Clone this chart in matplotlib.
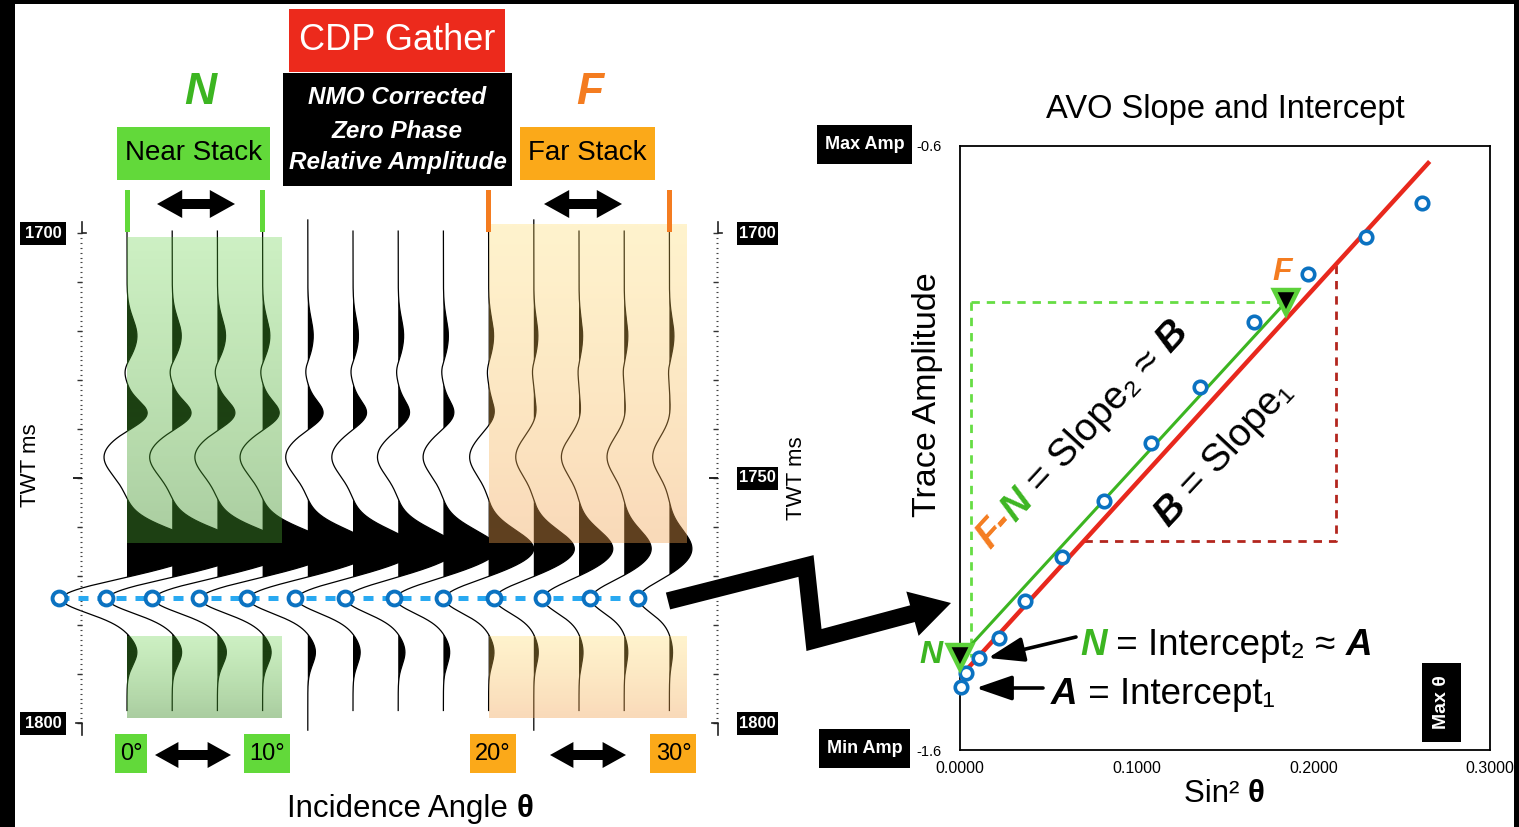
#!/usr/bin/env python3
"""AVO figure: near/far stack CDP gather next to the slope/intercept crossplot."""
import numpy as np
import matplotlib
matplotlib.use("Agg")
import matplotlib.pyplot as plt
from matplotlib.patches import Rectangle, Polygon

plt.rcParams["font.family"] = ["Liberation Sans", "DejaVu Sans"]

W, H = 1519, 827  # figure size in pixels (dpi=100)

# ---- gather: reflection events, amplitude per trace (13 traces, 0..30 deg) ----
event_ms = [1721.0, 1728.0, 1737.0, 1745.7, 1764.5, 1774.5, 1785.5]
event_width_ms = [3.5, 1.8, 2.6, 3.8, 3.8, 3.0, 2.6]
lobe1_amp = [0.22, 0.20, 0.18, 0.16, 0.12, 0.12, 0.12, 0.11, 0.11, 0.09, 0.08, 0.08, 0.10]
notch_amp = [-0.07, -0.07, -0.07, -0.06, -0.06, -0.06, -0.05, -0.05, -0.04, -0.04, -0.03, -0.03, -0.03]
lobe2_amp = [0.48, 0.45, 0.42, 0.40, 0.37, 0.33, 0.28, 0.26, 0.15, 0.07, 0.05, 0.04, 0.03]
trough1_amp = [-0.51, -0.50, -0.50, -0.50, -0.49, -0.47, -0.46, -0.45, -0.42, -0.40, -0.39, -0.38, -0.37]
peak_amp = [1.70, 1.70, 1.65, 1.60, 1.50, 1.40, 1.30, 1.20, 1.00, 0.90, 0.75, 0.60, 0.50]
avo_amp = [-1.496, -1.473, -1.448, -1.415, -1.353, -1.281, -1.188, -1.092,
           -0.999, -0.891, -0.812, -0.751, -0.694]
tail_amp = [0.22, 0.21, 0.20, 0.19, 0.17, 0.16, 0.15, 0.14, 0.12, 0.10, 0.09, 0.08, 0.07]
long_traces = [4, 9]

# ---- crossplot ----
sin2_theta = [0.0006, 0.0034, 0.0108, 0.0221, 0.0368, 0.0577, 0.0815, 0.1081,
              0.1358, 0.1664, 0.1970, 0.2298, 0.2615]
intercept1 = -1.479
slope1 = 3.21
fit_end = 0.265
near_stack = (0.0, -1.446)
far_stack = (0.1845, -0.858)
slope_run = (0.0702, 0.2128)
guide_x = 0.0062

angle_labels = ["0°", "10°", "20°", "30°"]
angle_traces = [0, 3, 8, 12]
near_span = (0, 3)
far_span = (8, 12)

GREEN = "#62d93a"
DKGREEN = "#3cb521"
ORANGE = "#f47c20"
AMBER = "#fba919"
BLUE = "#0b72c1"

# pixel layout of the gather: trace 0 at x=127, 45.2 px per trace; 1700 ms at y=233, 4.9 px/ms
TR0, TRDX = 127.0, 45.2
T0, TPX, PXMS = 1700.0, 233.0, 4.9


def px_rect(l, t, r, b):
    return [l / W, 1 - b / H, (r - l) / W, (b - t) / H]


def gx(px):
    return (px - TR0) / TRDX


def gt(py):
    return T0 + (py - TPX) / PXMS


def trace_px(i):
    return TR0 + TRDX * i


fig = plt.figure(figsize=(W / 100, H / 100), dpi=100)
fig.patch.set_facecolor("white")

# ---------------- gather ----------------
gl, gtop, gr, gb = 30, 180, 730, 800
ax_g = fig.add_axes(px_rect(gl, gtop, gr, gb))
ax_g.axis("off")

t = np.linspace(1696.0, 1803.0, 1600)
amps = np.array([lobe1_amp, notch_amp, lobe2_amp, trough1_amp, peak_amp, avo_amp, tail_amp])
for i in range(len(avo_amp)):
    tr = np.zeros_like(t)
    for k in range(len(event_ms)):
        tr += amps[k, i] * np.exp(-0.5 * ((t - event_ms[k]) / event_width_ms[k]) ** 2)
    top, bot = (1697.3, 1801.5) if i in long_traces else (1699.6, 1797.5)
    m = (t >= top) & (t <= bot)
    xs = i + tr[m]
    ax_g.fill_betweenx(t[m], i, xs, where=xs > i, interpolate=True,
                       color="black", lw=0, zorder=2)
    ax_g.plot(xs, t[m], color="black", lw=0.9, zorder=2)


def shade(x0, x1, t0, t1, c_top, c_bot):
    g = np.linspace(0, 1, 64)[:, None, None]
    rgba = np.array(c_top)[None, None, :] * (1 - g) + np.array(c_bot)[None, None, :] * g
    ax_g.imshow(rgba, extent=(x0, x1, t1, t0), aspect="auto",
                interpolation="bilinear", zorder=3)


g_top = (88 / 255, 205 / 255, 55 / 255, 0.30)
g_bot = (66 / 255, 144 / 255, 44 / 255, 0.45)
o_top = (255 / 255, 215 / 255, 88 / 255, 0.30)
o_bot = (242 / 255, 162 / 255, 80 / 255, 0.40)
shade(near_span[0], gx(282), gt(237), gt(543), g_top, g_bot)
shade(near_span[0], gx(282), gt(636), gt(718), g_top, g_bot)
shade(far_span[0], gx(686), gt(224), gt(543), o_top, o_bot)
shade(far_span[0], gx(686), gt(636), gt(718), o_top, o_bot)

# picked trough of the AVO event
trace_idx = np.arange(len(avo_amp))
pick_x = trace_idx + np.array(avo_amp)
pick_t = [event_ms[5]] * len(avo_amp)
ax_g.plot(pick_x, pick_t, color="#29a9f1", lw=3.6, dashes=(2.0, 1.8),
          solid_capstyle="butt", zorder=4)
ax_g.plot(pick_x, pick_t, "o", ms=10, mfc="white", mec=BLUE, mew=2.8, zorder=5)

# TWT rulers
for rx in (gx(82), gx(718)):
    minor = np.arange(1700, 1801, 1)
    mid = np.arange(1700, 1801, 10)
    ax_g.hlines(minor, rx - 2 / TRDX, rx, color="#444", lw=0.8, zorder=2)
    ax_g.hlines(mid, rx - 5 / TRDX, rx, color="#333", lw=1.0, zorder=2)
    ax_g.hlines([1750], rx - 9 / TRDX, rx, color="#222", lw=1.4, zorder=2)
    ax_g.plot([rx, rx, rx + 4 / TRDX], [1697.8, 1700, 1700], color="#222", lw=1.2)
    ax_g.plot([rx - 6 / TRDX, rx, rx], [1800, 1800, 1802.4], color="#222", lw=1.2)

ax_g.set_xlim(gx(gl), gx(gr))
ax_g.set_ylim(gt(gb), gt(gtop))

# ---------------- AVO crossplot ----------------
ax_a = fig.add_axes(px_rect(960, 146, 1490, 750))
ax_a.set_xlim(0, 0.3)
ax_a.set_ylim(-1.6, -0.6)
fx = np.array([0.0, fit_end])
ax_a.plot(fx, intercept1 + slope1 * fx, color="#e8281d", lw=3.2, zorder=3)
ax_a.plot([near_stack[0], far_stack[0]], [near_stack[1], far_stack[1]],
          color=DKGREEN, lw=2.2, zorder=3)
ax_a.plot([guide_x, far_stack[0]], [far_stack[1], far_stack[1]], color="#66dd44",
          lw=2.0, dashes=(3, 2.5), zorder=2)
ax_a.plot([guide_x, guide_x], [far_stack[1], near_stack[1]], color="#66dd44",
          lw=2.0, dashes=(3, 2.5), zorder=2)
run_y = intercept1 + slope1 * np.array(slope_run)
ax_a.plot([slope_run[0], slope_run[1], slope_run[1]], [run_y[0], run_y[0], run_y[1]],
          color="#b3261e", lw=2.0, dashes=(3, 2.5), zorder=2)
ax_a.plot(sin2_theta, avo_amp, "o", ms=9, mfc="white", mec=BLUE, mew=2.6,
          zorder=5, clip_on=False)
for pt in (near_stack, far_stack):
    ax_a.plot(*pt, "v", ms=17, mfc="black", mec="#5cd13a", mew=3.2, zorder=6,
              clip_on=False)

ax_a.set_xticks([0.0, 0.1, 0.2, 0.3])
ax_a.set_xticklabels([f"{v:.4f}" for v in [0.0, 0.1, 0.2, 0.3]])
ax_a.set_yticks([-1.6, -0.6])
ax_a.set_yticklabels(["-1.6", "-0.6"])
ax_a.tick_params(axis="x", length=0, pad=8, labelsize=11.5)
ax_a.tick_params(axis="y", length=0, pad=13, labelsize=10.5)
for s in ax_a.spines.values():
    s.set_linewidth(1.3)
ax_a.set_ylabel("Trace Amplitude", fontsize=24.5)
ax_a.yaxis.set_label_coords(-0.032, 0.588)
ax_a.set_title("AVO Slope and Intercept", fontsize=23.5, pad=20)

# ---------------- annotation layer (pixel coordinates) ----------------
ov = fig.add_axes([0, 0, 1, 1], zorder=10)
ov.set_xlim(0, W)
ov.set_ylim(H, 0)
ov.axis("off")
ov.patch.set_alpha(0)

renderer = fig.canvas.get_renderer()


def text_width(s, kw):
    a = ov.text(0, 0, s + "|", **kw)
    b = ov.text(0, 0, "|", **kw)
    w = a.get_window_extent(renderer).width - b.get_window_extent(renderer).width
    a.remove()
    b.remove()
    return w


def rich_text(x, y, pieces, size, angle=0.0, center=False):
    rad = np.deg2rad(angle)
    if center:
        total = sum(text_width(s, dict(fontsize=size, fontweight=wt, fontstyle=st))
                    for s, _, wt, st in pieces)
        x -= total / 2
    for s, color, weight, style in pieces:
        kw = dict(fontsize=size, color=color, fontweight=weight, fontstyle=style)
        ov.text(x, y, s, ha="left", va="baseline", rotation=angle,
                rotation_mode="anchor", **kw)
        w = text_width(s, kw)
        x += w * np.cos(rad)
        y -= w * np.sin(rad)


def label_box(x0, y0, x1, y1, text, fc="black", tc="white", size=11, weight="bold",
              style="normal", rotation=0):
    ov.add_patch(Rectangle((x0, y0), x1 - x0, y1 - y0, fc=fc, ec="none"))
    ov.text((x0 + x1) / 2, (y0 + y1) / 2, text, ha="center", va="center", color=tc,
            fontsize=size, fontweight=weight, fontstyle=style, rotation=rotation)


def double_arrow(cx, cy, length, height, shaft):
    hl = height * 0.9
    h = length / 2
    pts = [(-h, 0), (-h + hl, -height / 2), (-h + hl, -shaft / 2), (h - hl, -shaft / 2),
           (h - hl, -height / 2), (h, 0), (h - hl, height / 2), (h - hl, shaft / 2),
           (-h + hl, shaft / 2), (-h + hl, height / 2)]
    ov.add_patch(Polygon([(cx + px, cy + py) for px, py in pts], closed=True,
                         fc="black", ec="none"))


# frame
ov.add_patch(Rectangle((0, 0), 15, H, fc="black", ec="none"))
ov.add_patch(Rectangle((0, 0), W, 4, fc="black", ec="none"))
ov.add_patch(Rectangle((1514, 0), 5, H, fc="black", ec="none"))

# header
label_box(289, 9, 505, 72, "CDP Gather", fc="#ec2a1c", size=26, weight="normal")
ov.add_patch(Rectangle((283, 73), 229, 113, fc="black", ec="none"))
for yy, line in zip([98, 131, 163], ["NMO Corrected", "Zero Phase", "Relative Amplitude"]):
    ov.text(397.5, yy, line, ha="center", va="center", color="white", fontsize=17.5,
            fontweight="bold", fontstyle="italic")
ov.text(200, 93, "N", ha="center", va="center", color=DKGREEN, fontsize=32,
        fontweight="bold", fontstyle="italic")
ov.text(590, 93, "F", ha="center", va="center", color=ORANGE, fontsize=32,
        fontweight="bold", fontstyle="italic")
label_box(117, 127, 270, 180, "Near Stack", fc=GREEN, tc="black", size=20, weight="normal")
label_box(520, 127, 655, 180, "Far Stack", fc=AMBER, tc="black", size=20, weight="normal")

for i in near_span:
    ov.add_patch(Rectangle((trace_px(i) - 2.5, 190), 5, 42, fc=GREEN, ec="none"))
for i in far_span:
    ov.add_patch(Rectangle((trace_px(i) - 2.5, 190), 5, 42, fc=ORANGE, ec="none"))
double_arrow(196, 204, 78, 28, 10)
double_arrow(583, 204, 78, 28, 10)

# angle labels
for lab, i in zip(angle_labels, angle_traces):
    fc = GREEN if i <= near_span[1] else AMBER
    w = 32 if len(lab) == 2 else 46
    cx = trace_px(i) + 4
    label_box(cx - w / 2, 734, cx + w / 2, 773, lab, fc=fc, tc="black", size=17,
              weight="normal")
double_arrow(193, 755, 76, 26, 10)
double_arrow(588, 755, 76, 26, 10)
rich_text(410, 817, [("Incidence Angle ", "black", "normal", "normal"),
                     ("θ", "black", "bold", "normal")], 22.5, center=True)
rich_text(1224, 802, [("Sin² ", "black", "normal", "normal"),
                      ("θ", "black", "bold", "normal")], 22.5, center=True)

# time labels
for yy, lab in [(233, "1700"), (723, "1800")]:
    label_box(20, yy - 11.5, 66, yy + 11.5, lab, size=12)
for yy, lab in [(233, "1700"), (478, "1750"), (723, "1800")]:
    label_box(737, yy - 11.5, 778, yy + 11.5, lab, size=12)
ov.text(30, 465, "TWT ms", rotation=90, ha="center", va="center", fontsize=16)
ov.text(797, 478, "TWT ms", rotation=90, ha="center", va="center", fontsize=16)

# zigzag arrow from the gather pick to the crossplot
zz = np.array([(668, 601), (806, 566), (814, 640), (915, 613)], float)
ov.plot(zz[:, 0], zz[:, 1], color="black", lw=12.5, solid_joinstyle="miter",
        solid_capstyle="butt")
tip = np.array([951.0, 603.0])
d = tip - zz[-1]
d /= np.hypot(*d)
perp = np.array([-d[1], d[0]])
base = tip - 40 * d
ov.add_patch(Polygon([tip, base + 23 * perp, base - 23 * perp], closed=True,
                     fc="black", ec="none"))

# crossplot labels
label_box(817, 125, 912, 164, "Max Amp", size=13)
label_box(819, 729, 910, 768, "Min Amp", size=13)
label_box(1422, 663, 1461, 742, "Max θ", size=14, rotation=90)
ov.text(931, 655, "N", ha="center", va="center", color=DKGREEN, fontsize=23,
        fontweight="bold", fontstyle="italic")
ov.text(1282, 272, "F", ha="center", va="center", color=ORANGE, fontsize=23,
        fontweight="bold", fontstyle="italic")

arrow = dict(arrowstyle="-|>,head_length=1.1,head_width=0.38", lw=2.6, color="black",
             mutation_scale=20, shrinkA=0, shrinkB=0)
ov.annotate("", xy=(988, 658), xytext=(1076, 637), arrowprops=arrow)
ov.annotate("", xy=(976, 688), xytext=(1043, 688), arrowprops=arrow)

rich_text(1080, 655, [("N", DKGREEN, "bold", "italic"),
                      (" = Intercept₂ ≈ ", "black", "normal", "normal"),
                      ("A", "black", "bold", "italic")], 26.5)
rich_text(1051, 704, [("A", "black", "bold", "italic"),
                      (" = Intercept₁", "black", "normal", "normal")], 26.5)
rich_text(990, 550, [("F-", ORANGE, "bold", "italic"),
                     ("N", DKGREEN, "bold", "italic"),
                     (" = Slope₂ ≈ ", "black", "normal", "normal"),
                     ("B", "black", "bold", "italic")], 28, angle=47.5)
rich_text(1168, 528, [("B", "black", "bold", "italic"),
                      (" = Slope₁", "black", "normal", "normal")], 28, angle=47.0)

fig.savefig("out.png", dpi=100, facecolor="white")
